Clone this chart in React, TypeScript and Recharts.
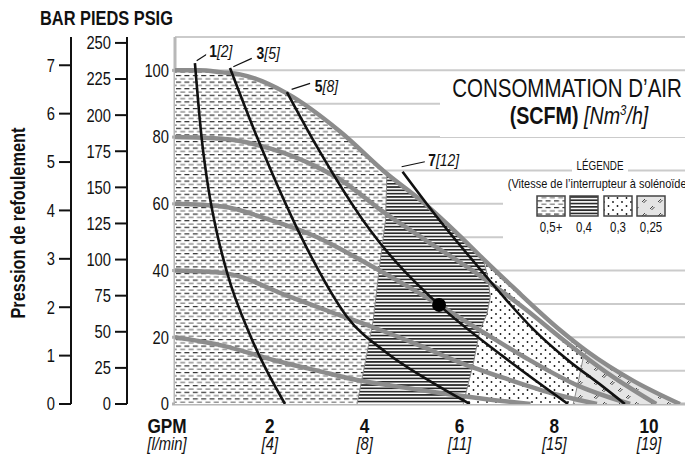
import React from 'react';
import { ComposedChart, XAxis, YAxis, CartesianGrid, Scatter } from 'recharts';

const FONT = "'Liberation Sans', Arial, sans-serif";
const SX = 0.82; // horizontal condensing of the text

// ---- axes ----
const gpmTicks = [0, 2, 4, 6, 8, 10];
const gpmLabels = ['GPM', '2', '4', '6', '8', '10'];
const lpmLabels = ['[l/min]', '[4]', '[8]', '[11]', '[15]', '[19]'];
const psiTicks = [0, 20, 40, 60, 80, 100];
const feetTicks = [0, 25, 50, 75, 100, 125, 150, 175, 200, 225, 250];
const barTicks = [0, 1, 2, 3, 4, 5, 6, 7];
const gridXTicks = [0, 0.4, 0.8, 1.2, 1.6, 2, 2.4, 2.8, 3.2, 3.6, 4, 4.4, 4.8, 5.2, 5.6, 6, 6.4, 6.8, 7.2, 7.6, 8, 8.4, 8.8, 9.2, 9.6, 10, 10.4, 10.8];
const gridYTicks = [0, 10, 20, 30, 40, 50, 60, 70, 80, 90, 100, 110];

// ---- pressure curves (GPM vs PSIG) ----
const p100X = [0, 0.5, 1.0, 1.37, 2.36, 3.48, 4.47, 5.23, 6.0, 6.5, 7.13, 8.12, 8.69, 9.66, 10.65];
const p100Y = [100, 100, 99.4, 98.8, 93.1, 81.7, 69.0, 60.5, 50.5, 43.5, 35, 22.2, 15.8, 7, 0];
const p80X = [0, 1.0, 2.07, 3.0, 3.48, 4.4, 5.3, 6.43, 7.34, 8.3, 9.2, 10.15];
const p80Y = [80, 79.5, 76.3, 71, 67.3, 57.5, 49, 38.5, 29, 18, 8.5, 0];
const p60X = [0, 1.0, 1.94, 3.0, 4.0, 5.0, 5.57, 6.5, 7.5, 8.5, 9.6];
const p60Y = [60, 59.2, 55.5, 50, 42.5, 34.5, 29.7, 21.5, 13, 5.5, 0];
const p40X = [0, 1.0, 2.43, 3.3, 4.18, 5.17, 6.0, 7.0, 8.0, 8.9];
const p40Y = [40, 39.3, 32.1, 27.5, 23, 17.5, 12.5, 7.5, 3, 0];
const p20X = [0, 1.0, 2.07, 3.0, 3.84, 4.7, 5.59, 6.5, 7.5];
const p20Y = [20, 17.5, 13.2, 10, 7.2, 5.2, 3.3, 1.6, 0];

// ---- air consumption curves (SCFM) ----
const c1X = [0.42, 0.56, 0.71, 0.87, 1.1, 1.6, 2.32];
const c1Y = [102.2, 80, 64.1, 52.2, 39.3, 20.1, 0];
const c3X = [1.16, 1.73, 2.49, 2.91, 3.63, 4.47, 5.3, 6.22];
const c3Y = [100.7, 80, 55.2, 43.2, 26.1, 15.3, 7.5, 0];
const c5X = [2.36, 3.0, 4.11, 5.57, 6.9, 8.29];
const c5Y = [93.5, 77, 52.2, 29.7, 14.5, 0];
const c7X = [4.8, 5.5, 6.43, 7.0, 7.55, 8.3, 9.0, 9.49];
const c7Y = [69.6, 56.5, 40.5, 31, 22.5, 13, 5.5, 0];

// ---- solenoid speed zone boundaries ----
const b04X = [3.84, 4.02, 4.18, 4.32, 4.44, 4.47];
const b04Y = [0, 13, 25, 42, 55, 69.0];
const b03X = [6.08, 6.29, 6.43, 6.58, 6.65, 6.6, 6.5];
const b03Y = [0, 12, 22, 27, 32, 38, 43.5];
const b025X = [8.4, 8.48, 8.57, 8.62, 8.69];
const b025Y = [0, 5, 11, 14.5, 15.8];

// ---- marked operating point ----
const pointX = [5.57];
const pointY = [29.7];

// ---- curve labels ----
const labelX = [0.72, 1.72, 2.95, 5.34];
const labelY = [105.7, 105.2, 95.2, 73.1];
const labelNum = ['1', '3', '5', '7'];
const labelAlt = ['[2]', '[5]', '[8]', '[12]'];
const leaderX0 = [0.457, 1.23, 2.46, 4.78];
const leaderY0 = [102.9, 101.1, 94.3, 71.1];
const leaderX1 = [0.703, 1.62, 2.85, 5.27];
const leaderY1 = [105.1, 103.6, 96.1, 72.6];

const pts = (xs: number[], ys: number[]) => xs.map((x, i) => ({ x, y: ys[i] }));

const topPts = pts(p100X, p100Y);
const zoneAll = [{ x: 0, y: 0 }, ...topPts];
const zoneRight = (bx: number[], by: number[]) => [
  ...pts(bx, by),
  ...topPts.filter((p) => p.x > bx[bx.length - 1]),
];
const zone04 = zoneRight(b04X, b04Y);
const zone03 = zoneRight(b03X, b03Y);
const zone025 = zoneRight(b025X, b025Y);

const pressureCurves = [pts(p100X, p100Y), pts(p80X, p80Y), pts(p60X, p60Y), pts(p40X, p40Y), pts(p20X, p20Y)];
const scfmCurves = [pts(c1X, c1Y), pts(c3X, c3Y), pts(c5X, c5Y), pts(c7X, c7Y)];
const labelData = labelX.map((x, i) => ({ x, y: labelY[i], num: labelNum[i], alt: labelAlt[i] }));
const leaders = leaderX0.map((x, i) => [
  { x, y: leaderY0[i] },
  { x: leaderX1[i], y: leaderY1[i] },
]);

const CText = (p: any) => (
  <text
    transform={`translate(${p.x},${p.y})${p.rotate ? ` rotate(${p.rotate})` : ''} scale(${p.sx ?? SX},1)`}
    textAnchor={p.anchor || 'start'}
    fontFamily={FONT}
    fontSize={p.size}
    fontWeight={p.bold ? 'bold' : 'normal'}
    fontStyle={p.italic ? 'italic' : 'normal'}
    fill="#111"
  >
    {p.children}
  </text>
);

const NoShape = () => <g />;

const GpmTick = (props: any) => {
  const { x, y, payload } = props;
  const i = gpmTicks.indexOf(payload.value);
  const dx = i === 0 ? -8 : 0;
  return (
    <g>
      <CText x={x + dx} y={y + 29} anchor="middle" size={21} bold>{gpmLabels[i]}</CText>
      <CText x={x + dx} y={y + 46} anchor="middle" size={18} italic>{lpmLabels[i]}</CText>
    </g>
  );
};

const YTick = (props: any) => {
  const { x, y, payload } = props;
  return <CText x={x} y={y + 6.4} anchor="end" size={18}>{payload.value}</CText>;
};

const CurveLabel = (props: any) => {
  const { cx, cy, payload } = props;
  const w = (payload.num.length + payload.alt.length) * 7 + 5;
  return (
    <g>
      <rect x={cx - 3} y={cy - 9} width={w} height={18} fill="#fff" />
      <CText x={cx} y={cy + 6} size={17}>
        <tspan fontWeight="bold">{payload.num}</tspan>
        <tspan fontStyle="italic">{payload.alt}</tspan>
      </CText>
    </g>
  );
};

const Dot = (props: any) => <circle cx={props.cx} cy={props.cy} r={7} fill="#000" />;

const Patterns = () => (
  <svg width={0} height={0} style={{ position: 'absolute' }}>
    <defs>
      <pattern id="pDash" width="8.4" height="6.6" patternUnits="userSpaceOnUse">
        <rect width="8.4" height="6.6" fill="#fff" />
        <rect x="0" y="1" width="5" height="1.1" fill="#1a1a1a" />
        <rect x="4.2" y="4.3" width="5" height="1.1" fill="#6a6a6a" />
        <rect x="-4.2" y="4.3" width="5" height="1.1" fill="#6a6a6a" />
      </pattern>
      <pattern id="pLines" width="6" height="3.3" patternUnits="userSpaceOnUse">
        <rect width="6" height="3.3" fill="#fff" />
        <rect x="0" y="0" width="6" height="1.7" fill="#2a2a2a" />
      </pattern>
      <pattern id="pDots" width="9" height="8" patternUnits="userSpaceOnUse">
        <rect width="9" height="8" fill="#fff" />
        <circle cx="2" cy="2" r="0.9" fill="#111" />
        <circle cx="6.5" cy="6" r="0.9" fill="#111" />
      </pattern>
      <pattern id="pEq" width="16" height="14" patternUnits="userSpaceOnUse">
        <rect width="16" height="14" fill="#e4e4e4" />
        <g stroke="#333" strokeWidth="0.9">
          <line x1="2" y1="5" x2="5" y2="2" />
          <line x1="3.5" y1="6" x2="6.5" y2="3" />
          <line x1="10" y1="12" x2="13" y2="9" />
          <line x1="11.5" y1="13" x2="14.5" y2="10" />
        </g>
      </pattern>
    </defs>
  </svg>
);

const Overlay = () => (
  <svg width={685} height={446} style={{ position: 'absolute', left: 0, top: 0, pointerEvents: 'none' }}>
    {/* left header */}
    <CText x={32} y={17} size={20} bold>BAR PIEDS PSIG</CText>
    <CText x={17} y={215} rotate={-90} anchor="middle" size={20} bold>Pression de refoulement</CText>
    {/* title */}
    <rect x={432} y={66} width={253} height={63} fill="#fff" />
    <CText x={559} y={89} anchor="middle" size={25}>CONSOMMATION D’AIR</CText>
    <CText x={571} y={116} anchor="middle" size={24}>
      <tspan fontWeight="bold">(SCFM)</tspan>
      <tspan fontStyle="italic"> [Nm</tspan>
      <tspan fontStyle="italic" fontSize={14} dy={-9}>3</tspan>
      <tspan fontStyle="italic" dy={9}>/h]</tspan>
    </CText>
    {/* legend */}
    <rect x={564} y={144} width={56} height={30} fill="#fff" />
    <rect x={495} y={165} width={190} height={71} fill="#fff" />
    <CText x={592} y={162} anchor="middle" size={12}>LÉGENDE</CText>
    <CText x={591} y={180} anchor="middle" size={13.4}>(Vitesse de l’interrupteur à solénoïde)</CText>
    {['pDash', 'pLines', 'pDots', 'pEq'].map((id, i) => (
      <rect key={id} x={[529, 562, 596, 629][i]} y={188} width={28} height={20} fill={`url(#${id})`} stroke="#444" strokeWidth={1.5} />
    ))}
    {['0,5+', '0,4', '0,3', '0,25'].map((t, i) => (
      <CText key={t} x={[543, 576, 610, 643][i]} y={224} anchor="middle" size={14}>{t}</CText>
    ))}
  </svg>
);

export default function App() {
  return (
    <div style={{ position: 'relative', width: 685, height: 446 }}>
      <Patterns />
      <ComposedChart width={685} height={446} margin={{ top: 29, right: 6, bottom: 5, left: 23 }}>
        <XAxis
          xAxisId="x"
          dataKey="x"
          type="number"
          domain={[0, 10.8]}
          allowDataOverflow
          ticks={gpmTicks}
          interval={0}
          tick={<GpmTick />}
          tickLine={false}
          tickSize={0}
          tickMargin={0}
          height={45}
          axisLine={{ stroke: '#b8b8b8', strokeWidth: 3 }}
        />
        <XAxis xAxisId="gx" orientation="top" type="number" domain={[0, 10.8]} allowDataOverflow ticks={gridXTicks} interval={0} hide />
        <YAxis
          yAxisId="y0psi"
          dataKey="y"
          type="number"
          domain={[0, 110]}
          allowDataOverflow
          ticks={psiTicks}
          interval={0}
          width={48}
          tick={<YTick />}
          tickLine={{ stroke: '#b0b0b0', strokeWidth: 3 }}
          tickSize={3}
          tickMargin={3}
          axisLine={{ stroke: '#b8b8b8', strokeWidth: 3 }}
        />
        <YAxis
          yAxisId="y1ft"
          type="number"
          domain={[0, 254.1]}
          allowDataOverflow
          ticks={feetTicks}
          interval={0}
          width={56}
          tick={<YTick />}
          tickLine={{ stroke: '#111', strokeWidth: 2 }}
          tickSize={12}
          tickMargin={4}
          axisLine={{ stroke: '#111', strokeWidth: 2 }}
        />
        <YAxis
          yAxisId="y2bar"
          type="number"
          domain={[0, 7.584]}
          allowDataOverflow
          ticks={barTicks}
          interval={0}
          width={40}
          tick={<YTick />}
          tickLine={{ stroke: '#111', strokeWidth: 2 }}
          tickSize={12}
          tickMargin={4}
          axisLine={{ stroke: '#111', strokeWidth: 2 }}
        />
        <YAxis yAxisId="gy" orientation="right" type="number" domain={[0, 110]} allowDataOverflow ticks={gridYTicks} interval={0} hide />
        <CartesianGrid xAxisId="gx" yAxisId="gy" stroke="#cbcbcb" strokeWidth={2} />

        <Scatter xAxisId="x" yAxisId="y0psi" data={zoneAll} shape={NoShape} line={{ fill: 'url(#pDash)', stroke: 'none' }} lineJointType="linear" isAnimationActive={false} />
        <Scatter xAxisId="x" yAxisId="y0psi" data={zone04} shape={NoShape} line={{ fill: 'url(#pLines)', stroke: '#8a8a8a', strokeWidth: 1 }} lineJointType="linear" isAnimationActive={false} />
        <Scatter xAxisId="x" yAxisId="y0psi" data={zone03} shape={NoShape} line={{ fill: 'url(#pDots)', stroke: '#8a8a8a', strokeWidth: 1 }} lineJointType="linear" isAnimationActive={false} />
        <Scatter xAxisId="x" yAxisId="y0psi" data={zone025} shape={NoShape} line={{ fill: 'url(#pEq)', stroke: '#8a8a8a', strokeWidth: 1 }} lineJointType="linear" isAnimationActive={false} />

        {pressureCurves.map((d, i) => (
          <Scatter key={`p${i}`} xAxisId="x" yAxisId="y0psi" data={d} shape={NoShape} line={{ stroke: '#8c8c8c', strokeWidth: 4.5, fill: 'none' }} lineJointType="monotoneX" isAnimationActive={false} />
        ))}
        {scfmCurves.map((d, i) => (
          <Scatter key={`c${i}`} xAxisId="x" yAxisId="y0psi" data={d} shape={NoShape} line={{ stroke: '#111', strokeWidth: 2.6, fill: 'none' }} lineJointType="monotoneX" isAnimationActive={false} />
        ))}
        {leaders.map((d, i) => (
          <Scatter key={`l${i}`} xAxisId="x" yAxisId="y0psi" data={d} shape={NoShape} line={{ stroke: '#111', strokeWidth: 1.2, fill: 'none' }} lineJointType="linear" isAnimationActive={false} />
        ))}
        <Scatter xAxisId="x" yAxisId="y0psi" data={labelData} shape={CurveLabel} isAnimationActive={false} />
        <Scatter xAxisId="x" yAxisId="y0psi" data={pts(pointX, pointY)} shape={Dot} isAnimationActive={false} />
      </ComposedChart>
      <Overlay />
    </div>
  );
}
